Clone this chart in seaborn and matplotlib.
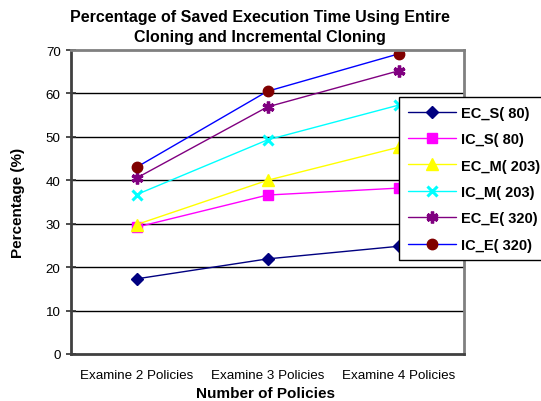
import numpy as np
import pandas as pd
import matplotlib
matplotlib.use("Agg")
import matplotlib.pyplot as plt
import seaborn as sns

categories = ["Examine 2 Policies", "Examine 3 Policies", "Examine 4 Policies"]
series_names = ["EC_S( 80)", "IC_S( 80)", "EC_M( 203)", "IC_M( 203)", "EC_E( 320)", "IC_E( 320)"]
ec_s = [17.3, 21.9, 24.8]
ic_s = [29.2, 36.6, 38.2]
ec_m = [29.8, 40.0, 47.6]
ic_m = [36.7, 49.3, 57.3]
ec_e = [40.5, 56.9, 65.2]
ic_e = [43.0, 60.5, 69.1]

sns.set_style("white")
plt.rcParams['font.family'] = ['Liberation Sans', 'DejaVu Sans']
plt.rcParams['text.color'] = 'black'
plt.rcParams['axes.labelcolor'] = 'black'
plt.rcParams['xtick.color'] = 'black'
plt.rcParams['ytick.color'] = 'black'

# line colour, marker, marker face colour, marker size, edge width
styles = {
    "EC_S( 80)": ("#000080", "D", "#000080", 6, 1),
    "IC_S( 80)": ("#FF00FF", "s", "#FF00FF", 7, 1),
    "EC_M( 203)": ("#FFFF00", "^", "#FFFF00", 8, 1),
    "IC_M( 203)": ("#00FFFF", "x", "#00FFFF", 7.5, 2.2),
    "EC_E( 320)": ("#800080", (6, 2, 0), "#800080", 8.5, 2.4),
    "IC_E( 320)": ("#0000FF", "o", "#800000", 7.5, 1),
}
values = [ec_s, ic_s, ec_m, ic_m, ec_e, ic_e]

fig = plt.figure(figsize=(5.41, 4.02), dpi=100)
ax = fig.add_axes([71 / 541, 1 - 355 / 402, (464 - 71) / 541, (355 - 51) / 402])

for name, vals in zip(series_names, values):
    col, mk, mfc, ms, mew = styles[name]
    df = pd.DataFrame({"cat": categories, "val": vals})
    sns.lineplot(data=df, x="cat", y="val", ax=ax, color=col, marker=mk,
                 markerfacecolor=mfc, markeredgecolor=mfc, markersize=ms,
                 markeredgewidth=mew, linewidth=1, label=name, sort=False)

ax.set_xlim(-0.5, 2.5)
ax.set_ylim(0, 70)
ax.set_yticks(np.arange(0, 71, 10))
for yv in range(10, 70, 10):
    ax.axhline(yv, color="black", linewidth=1, zorder=0)

ax.set_xticks([0, 1, 2])
ax.set_xticklabels(categories)
ax.set_xticks([-0.5, 0.5, 1.5, 2.5], minor=True)
ax.tick_params(axis="x", which="major", length=0, labelsize=9.6, pad=11)
ax.tick_params(axis="x", which="minor", length=8, width=1.2, direction="inout", color="#303030")
ax.tick_params(axis="y", length=7, width=1.2, direction="inout", color="#303030", labelsize=9.6,
               left=True, pad=4)

for s in ["left", "bottom"]:
    ax.spines[s].set_color("#404040")
    ax.spines[s].set_linewidth(2)
for s in ["top", "right"]:
    ax.spines[s].set_color("#808080")
    ax.spines[s].set_linewidth(2)

ax.set_xlabel("")
fig.text(266 / 541, 1 - 398 / 402, "Number of Policies", ha="center", va="baseline",
         fontsize=11, fontweight="bold")
ax.set_ylabel("Percentage (%)", fontsize=11, fontweight="bold", labelpad=15)

fig.text(260 / 541, 1 - 10 / 402,
         "Percentage of Saved Execution Time Using Entire\nCloning and Incremental Cloning",
         ha="center", va="top", fontsize=11.5, fontweight="bold", linespacing=1.45)

leg = ax.legend(loc="upper left", bbox_to_anchor=(399 / 541, 1 - 98 / 402),
                bbox_transform=fig.transFigure, frameon=True, fancybox=False,
                framealpha=1, edgecolor="black", prop={"weight": "bold", "size": 10.5},
                handlelength=3.3, labelspacing=0.85, borderpad=0.6, handletextpad=0.35,
                borderaxespad=0)
leg.get_frame().set_linewidth(1)

fig.savefig("out.png", dpi=100)
